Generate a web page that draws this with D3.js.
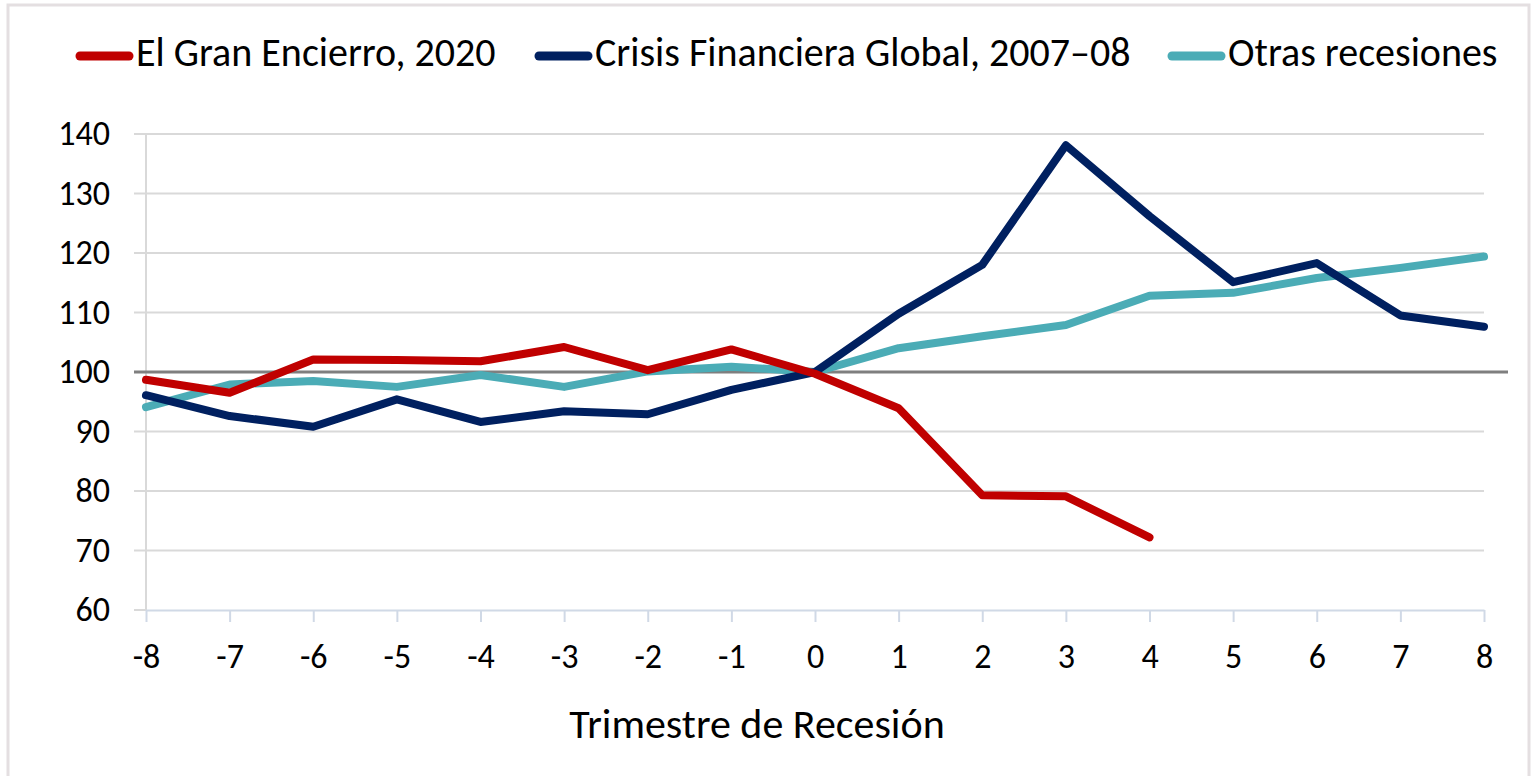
<!DOCTYPE html>
<meta charset="utf-8">
<script src="https://d3js.org/d3.v7.min.js"></script>
<style>
  body { margin: 0; background: #fff; }
  text { font-family: Carlito, Calibri, Lato, sans-serif; fill: #000; }
</style>
<div id="chart"></div>
<script>
// quarters relative to recession start
var quarters = [-8, -7, -6, -5, -4, -3, -2, -1, 0, 1, 2, 3, 4, 5, 6, 7, 8];
var yTicks = [60, 70, 80, 90, 100, 110, 120, 130, 140];

var granEncierro = [98.7, 96.5, 102.1, 102, 101.8, 104.2, 100.3, 103.8, 99.7, 93.9, 79.3, 79.1, 72.2];
var crisisGlobal = [96.1, 92.6, 90.8, 95.4, 91.6, 93.4, 92.9, 97, 100, 109.8, 118, 138.1, 126.2, 115.1, 118.3, 109.5, 107.6];
var otras = [94.1, 97.9, 98.5, 97.5, 99.5, 97.5, 100.1, 100.9, 100, 104, 106, 107.9, 112.8, 113.3, 115.8, 117.5, 119.4];

var seriesNames = ["El Gran Encierro, 2020", "Crisis Financiera Global, 2007\u201308", "Otras recesiones"];
var seriesColors = ["#C00000", "#002060", "#4BACB6"];
var seriesValues = [granEncierro, crisisGlobal, otras];

var W = 1534, H = 776;
var svg = d3.select("#chart").append("svg")
  .attr("width", W)
  .attr("height", H);

// outer frame
svg.append("rect")
  .attr("x", 8).attr("y", 5)
  .attr("width", 1521).attr("height", 800)
  .attr("fill", "none")
  .attr("stroke", "#e4dfe1")
  .attr("stroke-width", 3);

var x = d3.scaleLinear().domain([-8, 8]).range([146, 1484]);
var y = d3.scaleLinear().domain([60, 140]).range([610, 134]);

// horizontal gridlines
svg.append("g")
  .selectAll("line")
  .data(yTicks.filter(function(d) { return d > 60; }))
  .enter().append("line")
    .attr("x1", 134).attr("x2", 1484)
    .attr("y1", function(d) { return y(d); })
    .attr("y2", function(d) { return y(d); })
    .attr("stroke", "#d9d9d9")
    .attr("stroke-width", 2);

// left vertical axis line
svg.append("line")
  .attr("x1", x(-8)).attr("x2", x(-8))
  .attr("y1", y(140)).attr("y2", y(60))
  .attr("stroke", "#d9d9d9").attr("stroke-width", 2);

// bottom axis
svg.append("line")
  .attr("x1", 134).attr("x2", x(-8))
  .attr("y1", y(60)).attr("y2", y(60))
  .attr("stroke", "#d9d9d9").attr("stroke-width", 2);
var xAxis = svg.append("g")
  .attr("transform", "translate(0," + y(60) + ")")
  .call(d3.axisBottom(x).tickValues(quarters).tickSize(12).tickSizeOuter(0).tickPadding(22)
    .tickFormat(d3.format("d")));
xAxis.select(".domain").attr("stroke", "#d0d9e6").attr("stroke-width", 2);
xAxis.selectAll(".tick line").attr("stroke", "#d0d9e6").attr("stroke-width", 2);
xAxis.selectAll(".tick text")
  .style("font-size", "34px")
  .attr("fill", "#000")
  .text(function(d) { return d < 0 ? "-" + Math.abs(d) : d; });

// y axis labels
var yAxis = svg.append("g")
  .attr("transform", "translate(" + 134 + ",0)")
  .call(d3.axisLeft(y).tickValues(yTicks).tickSize(0).tickPadding(24));
yAxis.select(".domain").remove();
yAxis.selectAll(".tick text").style("font-size", "34px").attr("fill", "#000");

// reference line at 100
svg.append("line")
  .attr("x1", 134).attr("x2", 1508)
  .attr("y1", y(100)).attr("y2", y(100))
  .attr("stroke", "#7f7f7f")
  .attr("stroke-width", 3);

// series lines
var line = d3.line()
  .x(function(d, i) { return x(quarters[i]); })
  .y(function(d) { return y(d); });

[2, 1, 0].forEach(function(k) {
  svg.append("path")
    .datum(seriesValues[k])
    .attr("d", line)
    .attr("fill", "none")
    .attr("stroke", seriesColors[k])
    .attr("stroke-width", 8)
    .attr("stroke-linejoin", "round")
    .attr("stroke-linecap", "round");
});

// axis title
svg.append("text")
  .attr("x", 757).attr("y", 738)
  .attr("text-anchor", "middle")
  .style("font-size", "42px")
  .text("Trimestre de Recesi\u00f3n");

// legend
var legendX = [76, 535, 1168];
var legend = svg.append("g").selectAll("g")
  .data(seriesNames)
  .enter().append("g")
    .attr("transform", function(d, i) { return "translate(" + legendX[i] + ",56)"; });
legend.append("line")
  .attr("x1", 4).attr("x2", 53)
  .attr("y1", 0).attr("y2", 0)
  .attr("stroke", function(d, i) { return seriesColors[i]; })
  .attr("stroke-width", 9)
  .attr("stroke-linecap", "round");
legend.append("text")
  .attr("x", 60).attr("y", 10)
  .style("font-size", "40px")
  .text(function(d) { return d; });
</script>
